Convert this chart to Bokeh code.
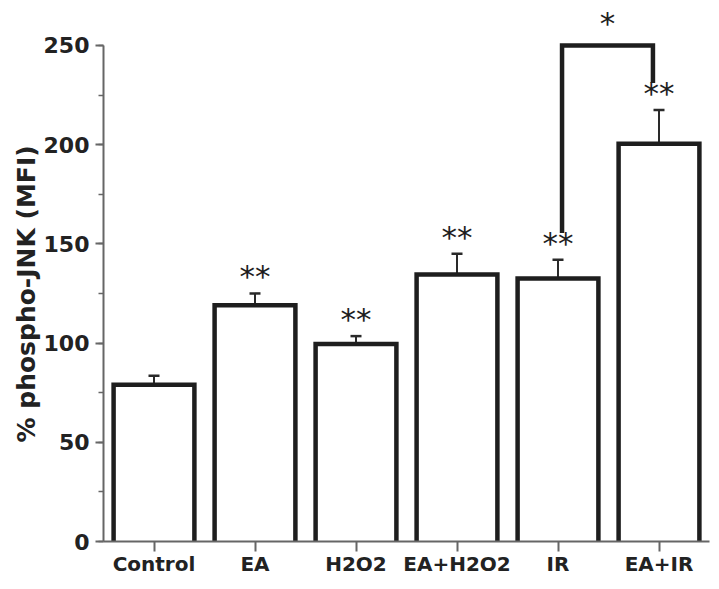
import numpy as np
from bokeh.plotting import figure
from bokeh.models import Range1d, FixedTicker, SingleIntervalTicker, ColumnDataSource, Whisker, TeeHead, Title
from bokeh.core.properties import value
from bokeh.embed import file_html
from bokeh.resources import INLINE

# ---- data ----
categories = ["Control", "EA", "H2O2", "EA+H2O2", "IR", "EA+IR"]
means = [79, 119, 99.5, 134.5, 132.5, 200.5]
errors = [4.5, 6, 4, 10.5, 9.5, 17]
stars = ["", "**", "**", "**", "**", "**"]
y_ticks = [0, 50, 100, 150, 200, 250]
bracket_pair = ("IR", "EA+IR")
bracket_top = 250
bracket_label = "*"
y_label = "% phospho-JNK (MFI)"

# ---- derived ----
xpos = np.arange(1, len(categories) + 1)
means_a = np.array(means, dtype=float)
errs_a = np.array(errors, dtype=float)
caps = means_a + errs_a

FONT = "DejaVu Sans"
INK = "#1e1e1e"
AXIS = "#666666"

p = figure(frame_width=606, frame_height=533,
           x_range=Range1d(0.5, len(categories) + 0.5),
           y_range=Range1d(0, 268.6),
           output_backend="svg", toolbar_location=None,
           min_border_left=103, min_border_right=4, min_border_top=8, min_border_bottom=38)
p.outline_line_color = None
p.xgrid.visible = False
p.ygrid.visible = False
p.background_fill_color = "white"
p.border_fill_color = "white"

src = ColumnDataSource(dict(x=xpos, top=means_a, cap=caps, star=stars))

# bar fills
p.vbar(x="x", top="top", width=0.8, source=src, fill_color="white", line_color=None)
# bar outlines (three sides, open at the bottom)
xs = [[x - 0.4, x - 0.4, x + 0.4, x + 0.4] for x in xpos]
ys = [[0, m, m, 0] for m in means_a]
p.multi_line(xs=xs, ys=ys, line_color=INK, line_width=4.5, line_join="miter")

# error bars (upper only)
p.add_layout(Whisker(base="x", lower="top", upper="cap", source=src,
                     line_color="#2a2a2a", line_width=2,
                     upper_head=TeeHead(size=11, line_color="#2a2a2a", line_width=2.5),
                     lower_head=None))

# significance stars
p.text(x="x", y="cap", text="star", source=src, text_font=value(FONT),
       text_font_size="31px", text_color="#1e1e1e", text_align="center",
       text_baseline="alphabetic", y_offset=-17)

# bracket between IR and EA+IR
i0 = categories.index(bracket_pair[0])
i1 = categories.index(bracket_pair[1])
gap = 13.5
bx = [xpos[i0] + 0.04, xpos[i0] + 0.04, xpos[i1] - 0.06, xpos[i1] - 0.06]
by = [caps[i0] + gap, bracket_top, bracket_top, caps[i1] + gap]
p.line(bx, by, line_color=INK, line_width=4.5, line_join="miter")
p.text(x=[(bx[0] + bx[2]) / 2], y=[bracket_top], text=[bracket_label], text_font=value(FONT),
       text_font_size="31px", text_color="#1e1e1e", text_align="center",
       text_baseline="alphabetic", y_offset=-22)

# x axis
p.xaxis.ticker = FixedTicker(ticks=list(xpos))
p.xaxis.major_label_overrides = {int(x): c for x, c in zip(xpos, categories)}
p.xaxis.axis_line_color = AXIS
p.xaxis.axis_line_width = 2
p.xaxis.major_tick_line_color = AXIS
p.xaxis.major_tick_line_width = 2
p.xaxis.major_tick_out = 10
p.xaxis.major_tick_in = 0
p.xaxis.minor_tick_line_color = None
p.xaxis.major_label_text_font = FONT
p.xaxis.major_label_text_font_style = "bold"
p.xaxis.major_label_text_font_size = "20px"
p.xaxis.major_label_text_color = "#222222"
p.xaxis.major_label_standoff = 0

# y axis
p.yaxis.ticker = SingleIntervalTicker(interval=50, num_minor_ticks=2)
p.yaxis.bounds = (y_ticks[0], y_ticks[-1])
p.yaxis.axis_line_color = AXIS
p.yaxis.axis_line_width = 2
p.yaxis.major_tick_line_color = AXIS
p.yaxis.major_tick_line_width = 2
p.yaxis.minor_tick_line_color = AXIS
p.yaxis.minor_tick_line_width = 1.5
p.yaxis.major_tick_out = 8
p.yaxis.major_tick_in = 0
p.yaxis.minor_tick_out = 5
p.yaxis.minor_tick_in = 0
p.yaxis.major_label_text_font = FONT
p.yaxis.major_label_text_font_style = "bold"
p.yaxis.major_label_text_font_size = "22px"
p.yaxis.major_label_text_color = "#222222"
p.yaxis.major_label_standoff = 6

# y-axis title as a left-side Title, so it can sit a little below the frame centre
p.add_layout(Title(text=y_label, align="left", offset=99, standoff=0,
                   text_font=FONT, text_font_style="bold", text_font_size="25px",
                   text_color="#222222"), "left")

open("out.html", "w").write(file_html(p, INLINE))
